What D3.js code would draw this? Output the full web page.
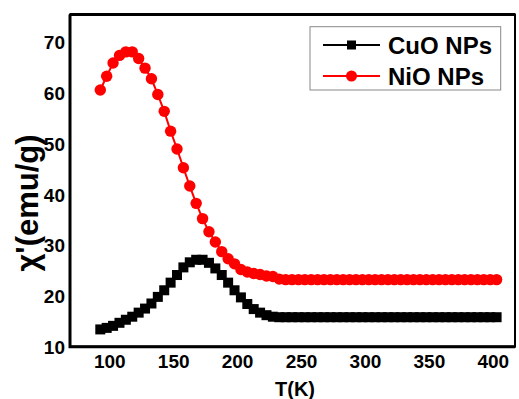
<!DOCTYPE html>
<html>
<head>
<meta charset="utf-8">
<script src="https://cdn.jsdelivr.net/npm/d3@7"></script>
<style>
  body { margin: 0; background: #fff; }
  svg { display: block; font-family: "Liberation Sans", Arial, sans-serif; }
</style>
</head>
<body>
<div id="chart"></div>
<script>
const width = 519;
const height = 399;

// temperature (K)
const temps = [
  93, 98, 103, 108, 113, 118, 123, 128, 133, 138,
  143, 148, 153, 158, 163, 168, 173, 178, 183, 188,
  193, 198, 203, 208, 213, 218, 223, 228, 233, 238,
  243, 248, 253, 258, 263, 268, 273, 278, 283, 288,
  293, 298, 303, 308, 313, 318, 323, 328, 333, 338,
  343, 348, 353, 358, 363, 368, 373, 378, 383, 388,
  393, 398, 403
];

const cuoValues = [
  13.4, 13.7, 14.1, 14.7, 15.3, 15.9, 16.7, 17.5, 18.5, 19.8,
  21.1, 22.6, 24.1, 25.6, 26.6, 27.1, 27.1, 26.5, 25.4, 24.1,
  22.6, 21.1, 19.7, 18.4, 17.4, 16.7, 16.2, 15.9, 15.8, 15.8,
  15.8, 15.8, 15.8, 15.8, 15.8, 15.8, 15.8, 15.8, 15.8, 15.8,
  15.8, 15.8, 15.8, 15.8, 15.8, 15.8, 15.8, 15.8, 15.8, 15.8,
  15.8, 15.8, 15.8, 15.8, 15.8, 15.8, 15.8, 15.8, 15.8, 15.8,
  15.8, 15.8, 15.8
];

const nioValues = [
  60.5, 63.2, 65.8, 67.3, 68.0, 68.0, 66.7, 64.8, 62.7, 59.6,
  56.3, 52.4, 48.9, 45.2, 41.6, 38.2, 35.2, 32.6, 30.6, 28.7,
  27.3, 26.3, 25.2, 24.7, 24.4, 24.2, 23.9, 23.8, 23.3, 23.2,
  23.2, 23.2, 23.2, 23.2, 23.2, 23.2, 23.2, 23.2, 23.2, 23.2,
  23.2, 23.2, 23.2, 23.2, 23.2, 23.2, 23.2, 23.2, 23.2, 23.2,
  23.2, 23.2, 23.2, 23.2, 23.2, 23.2, 23.2, 23.2, 23.2, 23.2,
  23.2, 23.2, 23.2
];

const xTicks = [100, 150, 200, 250, 300, 350, 400];
const yTicks = [10, 20, 30, 40, 50, 60, 70];
const seriesNames = ['CuO NPs', 'NiO NPs'];

const plotLeft = 70, plotRight = 515, plotTop = 14.5, plotBottom = 346.7;

const svg = d3.select('#chart')
  .append('svg')
    .attr('width', width)
    .attr('height', height);

const x = d3.scaleLinear()
  .domain([69.3, 417.4])
  .range([plotLeft, plotRight]);

const y = d3.scaleLinear()
  .domain([10, 75.35])
  .range([plotBottom, plotTop]);

// x tick labels
const xAxis = svg.append('g')
    .attr('transform', `translate(0, ${plotBottom})`)
    .call(d3.axisBottom(x).tickValues(xTicks).tickSize(0).tickPadding(0));
xAxis.select('.domain').remove();
xAxis.selectAll('text')
    .attr('dy', null)
    .attr('y', 21)
    .style('font-size', '19px')
    .style('font-weight', 'bold')
    .style('font-family', '"Liberation Sans", Arial, sans-serif')
    .attr('fill', '#000');

// y tick labels
const yAxis = svg.append('g')
    .attr('transform', `translate(${plotLeft}, 0)`)
    .call(d3.axisLeft(y).tickValues(yTicks).tickSize(0).tickPadding(5));
yAxis.select('.domain').remove();
yAxis.selectAll('text')
    .attr('dy', '0.36em')
    .style('font-size', '19px')
    .style('font-weight', 'bold')
    .style('font-family', '"Liberation Sans", Arial, sans-serif')
    .attr('fill', '#000');

// frame
svg.append('rect')
    .attr('x', plotLeft)
    .attr('y', plotTop)
    .attr('width', plotRight - plotLeft)
    .attr('height', plotBottom - plotTop)
    .attr('fill', 'none')
    .attr('stroke', '#000')
    .attr('stroke-width', 2);
svg.append('path')
    .attr('d', `M${plotLeft},${plotTop}V${plotBottom}H${plotRight}`)
    .attr('fill', 'none')
    .attr('stroke', '#000')
    .attr('stroke-width', 3);
svg.append('path')
    .attr('d', `M${plotLeft},${plotTop}H${plotRight}`)
    .attr('stroke', '#000')
    .attr('stroke-width', 3);

// axis titles
svg.append('text')
    .attr('x', 295)
    .attr('y', 396)
    .attr('text-anchor', 'middle')
    .style('font-size', '20px')
    .style('font-weight', 'bold')
    .text('T(K)');

svg.append('text')
    .attr('transform', `translate(38, 203) rotate(-90)`)
    .attr('text-anchor', 'middle')
    .style('font-size', '31px')
    .style('font-weight', 'bold')
    .text("\u03C7'(emu/g)");

const line = d3.line()
  .x((d, i) => x(temps[i]))
  .y(d => y(d));

// CuO
svg.append('path')
    .datum(cuoValues)
    .attr('d', line)
    .attr('fill', 'none')
    .attr('stroke', '#000')
    .attr('stroke-width', 2);
svg.append('g')
  .selectAll('rect')
  .data(cuoValues)
  .join('rect')
    .attr('x', (d, i) => x(temps[i]) - 5)
    .attr('y', d => y(d) - 5)
    .attr('width', 10)
    .attr('height', 10)
    .attr('fill', '#000');

// NiO
svg.append('path')
    .datum(nioValues)
    .attr('d', line)
    .attr('fill', 'none')
    .attr('stroke', '#f00')
    .attr('stroke-width', 2);
svg.append('g')
  .selectAll('circle')
  .data(nioValues)
  .join('circle')
    .attr('cx', (d, i) => x(temps[i]))
    .attr('cy', d => y(d))
    .attr('r', 5.7)
    .attr('fill', '#f00');

// legend
const legend = svg.append('g');
legend.append('rect')
    .attr('x', 310)
    .attr('y', 26.7)
    .attr('width', 190.7)
    .attr('height', 63.3)
    .attr('fill', '#fff')
    .attr('stroke', '#888')
    .attr('stroke-width', 1);

const rowY = [45, 76];
const colors = ['#000', '#f00'];
seriesNames.forEach((name, i) => {
  legend.append('line')
      .attr('x1', 323)
      .attr('x2', 380)
      .attr('y1', rowY[i])
      .attr('y2', rowY[i])
      .attr('stroke', colors[i])
      .attr('stroke-width', 2);
  if (i === 0) {
    legend.append('rect')
        .attr('x', 351.5 - 4.5)
        .attr('y', rowY[i] - 4.5)
        .attr('width', 9)
        .attr('height', 9)
        .attr('fill', colors[i]);
  } else {
    legend.append('circle')
        .attr('cx', 351.5)
        .attr('cy', rowY[i])
        .attr('r', 5.5)
        .attr('fill', colors[i]);
  }
  legend.append('text')
      .attr('x', 388)
      .attr('y', rowY[i] + 8.5)
      .style('font-size', '24px')
      .style('font-weight', 'bold')
      .text(name);
});
</script>
</body>
</html>
